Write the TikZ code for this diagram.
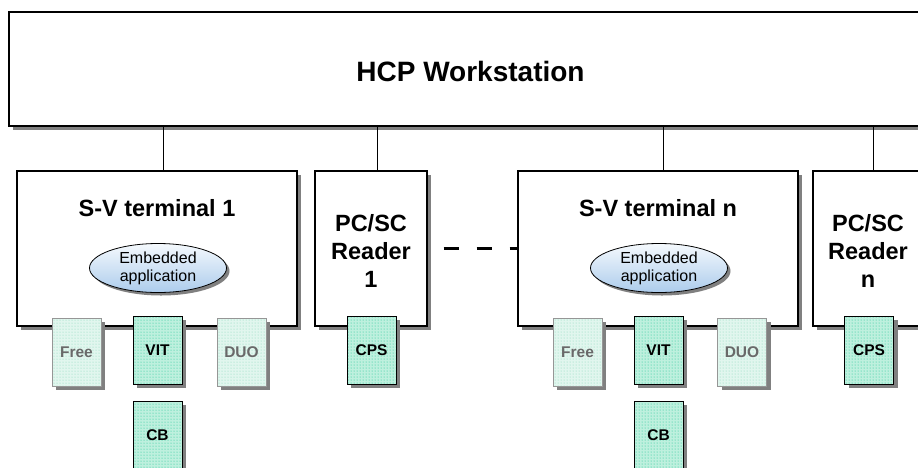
\documentclass[tikz,border=0pt]{standalone}
\usepackage{fontspec}
\setmainfont{Liberation Sans}
\usepackage{tikz}
\usetikzlibrary{shapes.geometric, shadows, patterns, positioning}

\definecolor{boxshade}{RGB}{128,128,128}
\definecolor{cardonbg}{RGB}{190,240,222}
\definecolor{cardondot}{RGB}{20,195,145}
\definecolor{cardoffbg}{RGB}{225,246,238}
\definecolor{cardoffdot}{RGB}{130,215,185}
\definecolor{cardoffline}{RGB}{150,150,150}
\definecolor{cardofftext}{RGB}{105,105,105}
\definecolor{apptop}{RGB}{245,249,253}
\definecolor{appbottom}{RGB}{172,204,236}

\begin{document}
\begin{tikzpicture}[
    x=1pt, y=-1pt,
    box/.style={rectangle, draw=black, line width=1.2pt, fill=white, drop shadow={shadow xshift=4pt, shadow yshift=-4pt, fill=boxshade, opacity=1}},
    boxlabel/.style={font=\fontsize{23.5}{28}\selectfont\bfseries, align=center},
    card/.style={rectangle, minimum width=49pt, minimum height=68pt, line width=0.9pt, font=\fontsize{15.5}{18}\selectfont\bfseries, drop shadow={shadow xshift=4pt, shadow yshift=-4pt, fill=boxshade, opacity=1}},
    cardon/.style={card, draw=black, text=black, preaction={fill=cardonbg}, pattern=dots, pattern color=cardondot},
    cardoff/.style={card, draw=cardoffline, text=cardofftext, preaction={fill=cardoffbg}, pattern=dots, pattern color=cardoffdot},
    app/.style={ellipse, draw=black, line width=0.8pt, minimum width=137pt, minimum height=49pt, inner sep=0pt, align=center, font=\fontsize{16}{18}\selectfont, top color=apptop, bottom color=appbottom, drop shadow={shadow xshift=3pt, shadow yshift=-3pt, fill=boxshade, opacity=1}},
    link/.style={line width=0.9pt}
]
\useasboundingbox (0,0) rectangle (918,467);

% Workstation
\node[box, minimum width=923pt, minimum height=114pt] (hcp) at (470.5,69) {};
\node[font=\fontsize{28}{32}\selectfont\bfseries] (hcplabel) at (470.5,71) {HCP Workstation};

% Terminal 1 and reader 1
\node[box, minimum width=280pt, minimum height=155pt] (term1) at (157,248.5) {};
\node[boxlabel, anchor=base] (term1label) at (157,216) {S-V terminal 1};
\node[app] (app1) at (158,268) {Embedded\\application};
\node[box, minimum width=112pt, minimum height=155pt] (rdr1) at (371,248.5) {};
\node[boxlabel] (rdr1label) at (371,251) {PC/SC\\Reader\\1};

% Terminal n and reader n
\node[box, minimum width=280pt, minimum height=155pt] (termn) at (658,248.5) {};
\node[boxlabel, anchor=base] (termnlabel) at (658,216) {S-V terminal n};
\node[app] (appn) at (659,268) {Embedded\\application};
\node[box, minimum width=112pt, minimum height=155pt] (rdrn) at (869,248.5) {};
\node[boxlabel] (rdrnlabel) at (868,251) {PC/SC\\Reader\\n};

% Cards
\node[cardoff] (free1) at (76.5,352) {Free};
\node[cardon] (vit1) at (157.5,350) {VIT};
\node[cardoff] (duo1) at (241.5,352) {DUO};
\node[cardon] (cb1) at (157.5,435) {CB};
\node[cardon] (cps1) at (371.5,350) {CPS};
\node[cardoff] (freen) at (577.5,352) {Free};
\node[cardon] (vitn) at (658.5,350) {VIT};
\node[cardoff] (duon) at (742,352) {DUO};
\node[cardon] (cbn) at (658.5,435) {CB};
\node[cardon] (cpsn) at (869,350) {CPS};

% Links to the workstation
\draw[link] ([xshift=6pt]term1.north) -- ([xshift=6pt]term1.north |- hcp.south);
\draw[link] ([xshift=6pt]rdr1.north) -- ([xshift=6pt]rdr1.north |- hcp.south);
\draw[link] ([xshift=5pt]termn.north) -- ([xshift=5pt]termn.north |- hcp.south);
\draw[link] ([xshift=4pt]rdrn.north) -- ([xshift=4pt]rdrn.north |- hcp.south);

% Ellipsis between terminals
\draw[line width=2.2pt, dash pattern=on 15pt off 18pt] ([xshift=16pt]rdr1.east) -- (termn.west);

\end{tikzpicture}
\end{document}
